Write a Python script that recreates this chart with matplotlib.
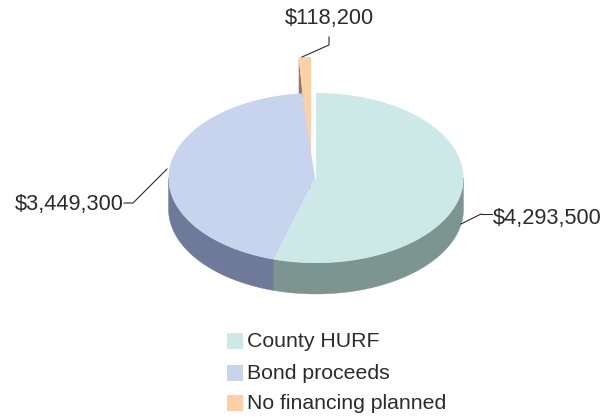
import numpy as np
import matplotlib
matplotlib.use("Agg")
import matplotlib.pyplot as plt
from matplotlib.patches import Polygon, Rectangle

plt.rcParams['font.family'] = ['Liberation Sans', 'DejaVu Sans']

# Data
categories = ["County HURF", "Bond proceeds", "No financing planned"]
values = [4293500, 3449300, 118200]
value_labels = ["$4,293,500", "$3,449,300", "$118,200"]

top_colors = ["#cce9e8", "#c8d4ee", "#fdd0a8"]
side_colors = ["#7d9590", "#6f7a9b", "#8f7a63"]
TEXT = "#2b2b2b"

# Pie geometry, in pixels of the 615x417 picture
CX, CY = 316, 178
RX, RY = 147.5, 85
DEPTH = 31
# the small slice is pulled out and stretched upwards
SMALL_CX, SMALL_CY = 311, 175
SMALL_RX, SMALL_RY = 130, 118


def rim(a, cx=CX, cy=CY, rx=RX, ry=RY):
    # a = degrees clockwise from twelve o'clock
    a = np.radians(a)
    return cx + rx * np.sin(a), cy - ry * np.cos(a)


fig = plt.figure(figsize=(6.15, 4.17), dpi=100)
ax = fig.add_axes([0, 0, 1, 1])
ax.set_xlim(0, 615)
ax.set_ylim(417, 0)
ax.axis("off")

fractions = np.array(values) / sum(values)
edges = np.concatenate([[0], np.cumsum(fractions) * 360])

# pulled out slice goes first, the big ones cover its lower part
start, end = edges[2], edges[3]
x0, y0 = rim(start, SMALL_CX, SMALL_CY, SMALL_RX, SMALL_RY)
ax.add_patch(Polygon([(x0, y0), (x0, y0 + DEPTH + 6), (SMALL_CX, SMALL_CY + DEPTH),
                      (SMALL_CX, SMALL_CY)], color=side_colors[2], lw=0))
t = np.linspace(start, end, 10)
xs, ys = rim(t, SMALL_CX, SMALL_CY, SMALL_RX, SMALL_RY)
ax.add_patch(Polygon(np.r_[[[SMALL_CX, SMALL_CY]], np.c_[xs, ys]], color=top_colors[2], lw=0))

# side walls, only the front half of the rim shows
for i in range(2):
    a0 = max(edges[i], 90)
    a1 = min(edges[i + 1], 270)
    if a1 <= a0:
        continue
    t = np.linspace(a0, a1, 120)
    xs, ys = rim(t)
    pts = np.r_[np.c_[xs, ys], np.c_[xs[::-1], ys[::-1] + DEPTH]]
    ax.add_patch(Polygon(pts, facecolor=side_colors[i], edgecolor=side_colors[i], lw=0.3))

# top faces
for i in range(2):
    t = np.linspace(edges[i], edges[i + 1], 200)
    xs, ys = rim(t)
    ax.add_patch(Polygon(np.r_[[[CX - 1, CY]], np.c_[xs, ys]], color=top_colors[i], lw=0))

# white gap between the first slice and the pulled out one
ax.plot([CX - 1, CX - 1], [rim(0)[1], CY], color="white", lw=0.8)

# leader lines
ax.plot([481, 492], [214, 214], color=TEXT, lw=0.8)
ax.plot([461, 481], [224, 214], color=TEXT, lw=0.8)
ax.plot([124, 133, 167], [203, 203, 169], color=TEXT, lw=0.8)
ax.plot([329, 329, 302], [37, 45, 57], color=TEXT, lw=0.8)

ax.text(493, 218, value_labels[0], fontsize=15.7, color=TEXT, ha="left", va="center")
ax.text(15, 204, value_labels[1], fontsize=15.7, color=TEXT, ha="left", va="center")
ax.text(285, 18, value_labels[2], fontsize=15.7, color=TEXT, ha="left", va="center")

# legend
legend_y = [341, 373, 403]
for name, col, y in zip(categories, top_colors, legend_y):
    ax.add_patch(Rectangle((227, y - 8), 16, 16, color=col, lw=0))
    ax.text(247, y + 0.5, name, fontsize=15.3, color=TEXT, ha="left", va="center")

fig.savefig("out.png", dpi=100)
